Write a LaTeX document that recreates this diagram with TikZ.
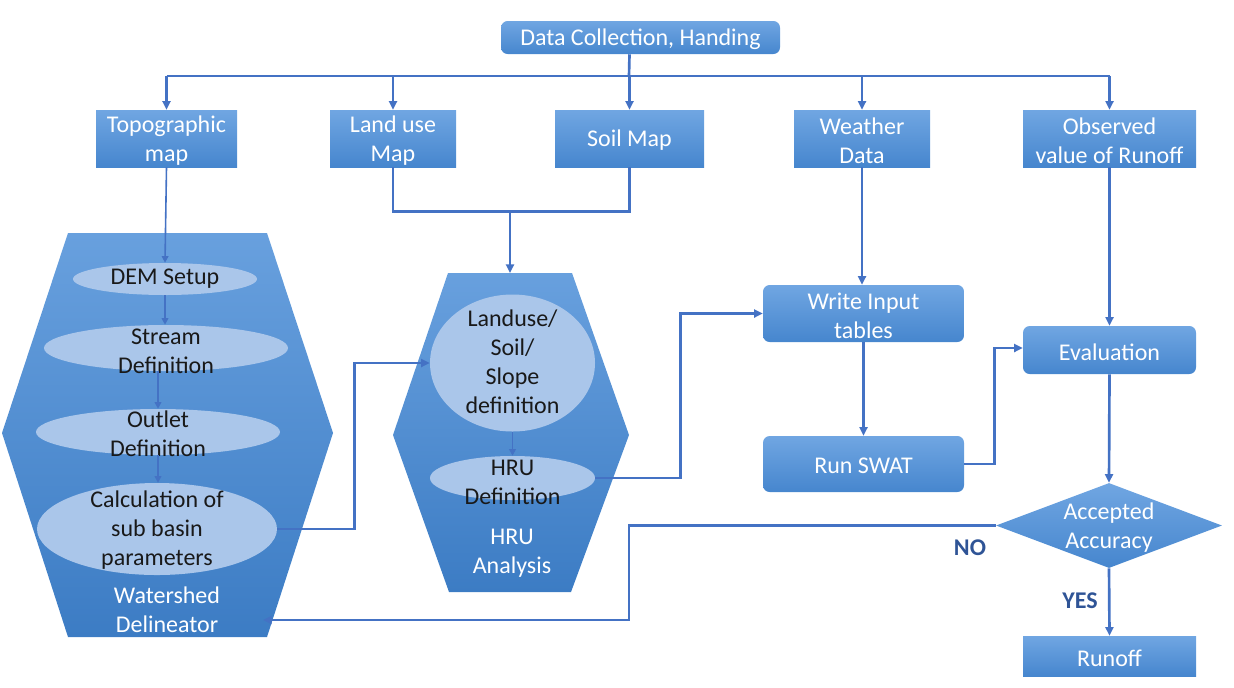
\documentclass[tikz,border=0pt]{standalone}
\usepackage{fontspec}
\setmainfont{Carlito}
\usetikzlibrary{arrows.meta,shapes.geometric,calc}
\definecolor{lnblue}{RGB}{68,114,196}
\definecolor{boxtop}{RGB}{112,166,226}
\definecolor{boxbot}{RGB}{70,134,206}
\definecolor{hextop}{RGB}{104,160,222}
\definecolor{hexbot}{RGB}{60,124,196}
\definecolor{ellfill}{RGB}{170,198,234}
\definecolor{lbldark}{RGB}{47,84,150}
\newcommand\mainfs{\fontsize{18}{21.75}\selectfont}
\begin{document}
\begin{tikzpicture}[x=0.75pt,y=-0.75pt,
  box/.style={rectangle, draw=none, top color=boxtop, bottom color=boxbot, inner sep=0pt},
  rbox/.style={box, rounded corners=5pt},
  ell/.style={ellipse, fill=ellfill, draw=none, inner sep=0pt},
  etext/.style={align=center, text=black!90, font=\mainfs, inner sep=0pt},
  wtext/.style={align=center, text=white, font=\mainfs, inner sep=0pt},
  lbl/.style={text=lbldark, font=\mainfs\bfseries, inner sep=0pt},
  conn/.style={draw=lnblue, line width=2pt, -{Triangle[length=6.5pt,width=6pt]}},
  thinc/.style={draw=lnblue, line width=1.2pt, -{Triangle[length=5pt,width=5pt]}},
  plain/.style={draw=lnblue, line width=2pt}]
\useasboundingbox (0,0) rectangle (1234,687);

% hexagons
\shade[top color=hextop, bottom color=hexbot] (68,233) -- (267,233) -- (333,433) -- (267,637) -- (68,637) -- (2,433) -- cycle;
\shade[top color=hextop, bottom color=hexbot] (448,273) -- (572,273) -- (629,435) -- (571,592) -- (449,592) -- (393,435) -- cycle;
\coordinate (wsin) at (263,620);
\coordinate (hrutop) at (510,273);

% top boxes
\node[rbox, minimum width=209.25pt, minimum height=24.75pt] (data) at (640.5,37.5) {};
\node[wtext] (datat) at ($(data)+(0,2)$) {Data Collection, Handing};
\node[box, minimum width=105.75pt, minimum height=42.75pt] (topo) at (166.5,138.5) {};
\node[wtext] (topot) at ($(topo)+(0,2.5)$) {Topographic\\map};
\node[box, minimum width=94.5pt, minimum height=42.75pt] (land) at (393,138.5) {};
\node[wtext] (landt) at ($(land)+(0,2.5)$) {Land use\\Map};
\node[box, minimum width=111.75pt, minimum height=42.75pt] (soil) at (629.5,138.5) {};
\node[wtext] (soilt) at ($(soil)+(0,2)$) {Soil Map};
\node[box, minimum width=102pt, minimum height=42.75pt] (weather) at (862,138.5) {};
\node[wtext] (weathert) at ($(weather)+(0,2.5)$) {Weather\\Data};
\node[box, minimum width=129.75pt, minimum height=42.75pt] (obs) at (1109.5,138.5) {};
\node[wtext] (obst) at ($(obs)+(0,2.5)$) {Observed\\value of Runoff};

% right column
\node[rbox, minimum width=150.75pt, minimum height=42.75pt] (write) at (863.5,313.5) {};
\node[wtext] (writet) at ($(write)+(0,2)$) {Write Input\\tables};
\node[rbox, minimum width=150.75pt, minimum height=42pt] (swat) at (863.5,464) {};
\node[wtext] (swatt) at ($(swat)+(0,2)$) {Run SWAT};
\node[rbox, minimum width=129.75pt, minimum height=36pt] (eval) at (1109.5,350) {};
\node[wtext] (evalt) at ($(eval)+(0,2)$) {Evaluation};
\node[diamond, draw=none, top color=boxtop, bottom color=boxbot, inner sep=0pt, minimum width=169.5pt, minimum height=63.75pt] (acc) at (1109,525.5) {};
\node[wtext] (acct) at (1109,528) {Accepted\\Accuracy};
\node[box, minimum width=129.75pt, minimum height=30pt] (runoff) at (1109.5,656) {};
\node[wtext] (runofft) at ($(runoff)+(0,2)$) {Runoff};

% ellipses, watershed
\node[ell, minimum width=138pt, minimum height=24pt] (dem) at (165,279) {};
\node[ell, minimum width=183pt, minimum height=34.5pt] (stream) at (166,348) {};
\node[ell, minimum width=183pt, minimum height=34.5pt] (outlet) at (158,432) {};
\node[ell, minimum width=180pt, minimum height=69pt] (calc) at (157,529) {};
\node[etext] (demt) at (165,279) {DEM Setup};
\node[etext] (streamt) at (166,351) {Stream\\Definition};
\node[etext] (outlett) at (158,434) {Outlet\\Definition};
\node[etext] (calct) at (157,530) {Calculation of\\sub basin\\parameters};
\node[wtext] (wst) at (167,610) {Watershed\\Delineator};

% ellipses, HRU
\node[ell, minimum width=123.75pt, minimum height=102.75pt] (landuse) at (512.5,363) {};
\node[ell, minimum width=123.75pt, minimum height=33pt] (hru) at (512.5,478) {};
\node[etext] (landuset) at (512.5,362) {Landuse/\\Soil/\\Slope\\definition};
\node[etext] (hrut) at (512.5,482) {HRU\\Definition};
\node[wtext] (hruat) at (512,553) {HRU\\Analysis};

% labels
\node[lbl] (no) at (970,548) {NO};
\node[lbl] (yes) at (1080,601) {YES};

% connectors: top distribution
\coordinate (bus) at (629,76);
\draw[plain] (data.south -| soil.north) -- (bus);
\draw[plain] (topo.north |- bus) -- (obs.north |- bus);
\draw[conn] (topo.north |- bus) -- (topo.north);
\draw[conn] (land.north |- bus) -- (land.north);
\draw[conn] (soil.north |- bus) -- (soil.north);
\draw[conn] (weather.north |- bus) -- (weather.north);
\draw[conn] (obs.north |- bus) -- (obs.north);

% land use + soil merge
\draw[plain] (land.south) -- ++(0,44) -| (soil.south);
\draw[conn] (hrutop |- 0,211) -- (hrutop);

% watershed chain
\draw[thinc] (topo.south) -- (dem.north);
\draw[thinc] (dem.south) -- (stream.north -| dem.south);
\draw[thinc] (outlet.north |- stream.south) -- (outlet.north);
\draw[thinc] (outlet.south) -- (calc.north -| outlet.south);
\draw[conn] (calc.east) -- ++(77,0) |- (landuse.west);

% HRU chain
\draw[thinc] (landuse.south) -- (hru.north);
\draw[conn] (hru.east) -- ++(85,0) |- (write.west);

% right column
\draw[conn] (weather.south) -- (write.north -| weather.south);
\draw[conn] (write.south) -- (swat.north);
\draw[conn] (swat.east) -- ++(30,0) |- ($(eval.west)+(0,-2)$);
\draw[conn] (obs.south) -- (eval.north);
\draw[conn] (eval.south) -- (acc.north);
\draw[conn] (acc.south) -- (runoff.north);
\draw[conn] (acc.west) -- (629,525.5) |- (wsin);
\end{tikzpicture}
\end{document}
